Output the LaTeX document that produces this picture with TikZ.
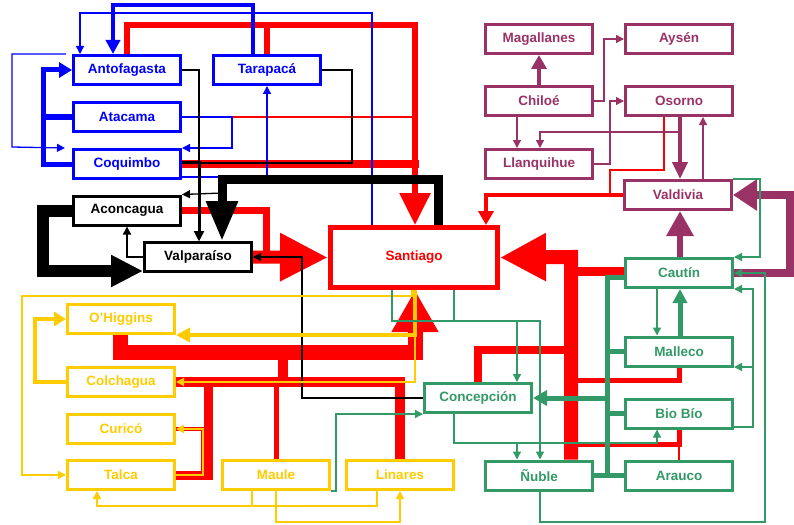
\documentclass[tikz,border=0pt]{standalone}
\usepackage{fontspec}
\setmainfont{Liberation Sans}
\usetikzlibrary{arrows.meta,backgrounds}
\definecolor{cB}{RGB}{0,0,255}
\definecolor{cR}{RGB}{255,0,0}
\definecolor{cY}{RGB}{255,204,0}
\definecolor{cG}{RGB}{51,153,102}
\definecolor{cP}{RGB}{153,51,102}
\begin{document}
\begin{tikzpicture}[x=1pt,y=-1pt,
  box/.style={draw=#1,text=#1,fill=white,line width=3pt,minimum width=107pt,minimum height=29pt,inner sep=0pt,font=\fontsize{13.5}{15}\selectfont\bfseries},
  th/.style={line width=1.3pt},
  arw/.style={-{Triangle[length=8pt,width=8pt]}}]
\useasboundingbox (0,0) rectangle (794,524);
% nodes
\node[box=cB] (anto) at (127,70) {Antofagasta};
\node[box=cB] (tara) at (267,70) {Tarapacá};
\node[box=cB] (atac) at (127,117) {Atacama};
\node[box=cB] (coq) at (127,164) {Coquimbo};
\node[box=black] (acon) at (127,210.5) {Aconcagua};
\node[box=black] (valp) at (198,257) {Valparaíso};
\node[box=cR,line width=5pt,minimum width=167pt,minimum height=60pt] (sant) at (414,257.5) {Santiago};
\node[box=cY] (ohig) at (121,319) {O’Higgins};
\node[box=cY] (colc) at (121,382) {Colchagua};
\node[box=cY] (curi) at (121,429) {Curicó};
\node[box=cY] (talc) at (121,475) {Talca};
\node[box=cY] (maul) at (276,475) {Maule};
\node[box=cY] (lina) at (400,475) {Linares};
\node[box=cG] (conc) at (478,398) {Concepción};
\node[box=cG] (nubl) at (539,475.5) {Ñuble};
\node[box=cG] (arau) at (679,475.5) {Arauco};
\node[box=cG] (biob) at (679,413.5) {Bio Bío};
\node[box=cG] (mall) at (679,351.5) {Malleco};
\node[box=cG] (caut) at (679,273) {Cautín};
\node[box=cP] (vald) at (678,195) {Valdivia};
\node[box=cP] (maga) at (539,39) {Magallanes};
\node[box=cP] (ayse) at (679,39) {Aysén};
\node[box=cP] (chil) at (539,101) {Chiloé};
\node[box=cP] (osor) at (679,101) {Osorno};
\node[box=cP] (llan) at (539,164) {Llanquihue};
\begin{pgfonlayer}{background}
% red
\draw[cR,line width=6pt,-{Triangle[length=32pt,width=30pt]}] (127,0 |- anto.north) -- (127,25) -- (415,25) -- (415,0 |- sant.north);
\draw[cR,line width=6pt] (267,0 |- tara.north) -- (267,25);
\draw[cR,th] (atac.east) -- (415,117);
\draw[cR,line width=8pt] (coq.east) -- (419,164);
\draw[cR,line width=7pt] (acon.east) -- (266,210.5) -- (266,257);
\draw[cR,line width=13pt,-{Triangle[length=48pt,width=45pt]}] (valp.east) -- (sant.west);
\draw[cR,line width=4pt,-{Triangle[length=14pt,width=15pt]}] (vald.west) -- (486,195) -- (486,0 |- sant.north);
\draw[cR,line width=1.5pt] (664,0 |- osor.south) -- (664,170) -- (610,170) -- (610,195);
\draw[cR,line width=14pt,-{Triangle[length=46pt,width=45pt]}] (571,0 |- nubl.north) -- (571,257) -- (sant.east);
\draw[cR,line width=9pt] (caut.west |- 0,271) -- (571,271);
\draw[cR,line width=5pt] (679,0 |- mall.south) -- (679,380) -- (571,380);
\draw[cR,line width=5pt] (679,0 |- biob.south) -- (679,444) -- (571,444);
\draw[cR,line width=1.5pt] (679,0 |- arau.north) -- (679,444);
\draw[cR,line width=8pt] (478,0 |- conc.north) -- (478,350) -- (571,350);
\draw[cR,line width=15pt,-{Triangle[length=42pt,width=44pt]}] (120,0 |- ohig.south) -- (120,352) -- (415,352) -- (415,0 |- sant.south);
\draw[cR,line width=10pt] (283,352) -- (283,382);
\draw[cR,line width=10pt] (colc.east) -- (400,382) -- (400,0 |- lina.north);
\draw[cR,line width=5pt] (276,382) -- (276,0 |- maul.north);
\draw[cR,line width=9pt] (talc.east) -- (208,475) -- (208,382);
\draw[cR,line width=4.5pt] (talc.east) -- (203,475) -- (203,429) -- (curi.east);
% blue
\draw[cB,line width=4.5pt,-{Triangle[length=14pt,width=14pt]}] (253,0 |- tara.north) -- (253,5) -- (113,5) -- (113,0 |- anto.north);
\draw[cB,th,arw] (372,0 |- sant.north) -- (372,13) -- (80,13) -- (80,0 |- anto.north);
\draw[cB,th,arw] ([xshift=-6pt]anto.north west) -- (12,54) -- (12,147) -- ([xshift=-7pt]coq.north west);
\draw[cB,line width=5pt,-{Triangle[length=13pt,width=15pt]}] (coq.west) -- (43,164) -- (43,70) -- (anto.west);
\draw[cB,line width=5pt] (atac.west) -- (43,117);
\draw[cB,th,arw] (atac.east) -- (232,117) -- (232,148) -- (coq.north east);
\draw[cB,th,arw] ([yshift=3pt]coq.south east) -- (267,177) -- (267,0 |- tara.south);
% black
\draw[th,arw] (anto.east) -- (199,70) -- (199,0 |- valp.north);
\draw[line width=3pt,-{Triangle[length=10pt,width=10pt]}] (coq.east |- 0,162) -- (199,162) -- (199,0 |- valp.north);
\draw[th] (tara.east) -- (352,70) -- (352,163) -- (199,163);
\draw[line width=9pt,-{Triangle[length=40pt,width=30pt]}] (438,0 |- sant.north) -- (438,179) -- (222,179) -- (222,0 |- valp.north);
\coordinate (kb) at (222,193);
\draw[th,arw] (kb) -- (acon.north east);
\draw[th,arw] (conc.west) -- (302,398) -- (302,257) -- (valp.east);
\draw[th,arw] (valp.west) -- (127,257) -- (127,0 |- acon.south);
\draw[line width=12pt,-{Triangle[length=32pt,width=30pt]}] (acon.west) -- (43,210.5) -- (43,271) -- (valp.west |- 0,271);
% yellow
\draw[cY,line width=4pt,-{Triangle[length=14pt,width=14pt]}] (415,0 |- sant.south) |- (ohig.south east);
\draw[cY,th,arw] (415,0 |- sant.south) |- (colc.east);
\draw[cY,th,arw] (412,0 |- sant.south) -- (412,296) -- (22,296) |- (talc.west);
\draw[cY,line width=4pt,-{Triangle[length=12pt,width=14pt]}] (colc.west) -- (35,382) |- (ohig.west);
\draw[cY,th,arw] (talc.east) -- (203,475) -- (203,429) -- (curi.east);
\draw[cY,th,arw] (252,0 |- maul.south) -- (252,506) -- (97,506) -- (97,0 |- talc.south);
\draw[cY,th] (377,0 |- lina.south) -- (377,506) -- (252,506);
\draw[cY,th,arw] (276,0 |- maul.south) -- (276,522) -- (400,522) -- (400,0 |- lina.south);
% green
\draw[cG,th,arw] (392,0 |- sant.south) -- (392,321) -- (517,321) -- (517,0 |- conc.north);
\draw[cG,th,arw] (454,0 |- sant.south) -- (454,321) -- (540,321) -- (540,0 |- nubl.north);
\draw[cG,th,arw] (454,0 |- conc.south) -- (454,443) -- (657,443) -- (657,0 |- biob.south);
\draw[cG,th,arw] (517,443) -- (517,0 |- nubl.north);
\draw[cG,th,arw] (maul.south east) -- (336,491) -- (336,414) -- (conc.west |- 0,414);
\draw[cG,line width=5pt] (caut.west |- 0,277) -- (607,277) -- (607,475.5) -- (arau.west);
\draw[cG,line width=5pt] (mall.west) -- (607,351.5);
\draw[cG,line width=5pt] (biob.west) -- (607,413.5);
\draw[cG,line width=5pt] (nubl.east) -- (607,475.5);
\draw[cG,line width=5pt,-{Triangle[length=14pt,width=15pt]}] (607,398) -- (conc.east);
\draw[cG,th,arw] (657,0 |- caut.south) -- (657,0 |- mall.north);
\draw[cG,line width=5pt,-{Triangle[length=14pt,width=14pt]}] (680,0 |- mall.north) -- (680,0 |- caut.south);
\draw[cG,th,arw] (biob.east |- 0,427) -- (753,427) -- (753,289) -- (caut.east |- 0,289);
\draw[cG,th,arw] (753,367) -- (mall.east |- 0,367);
% purple
\draw[cP,line width=8pt,-{Triangle[length=24pt,width=30pt]}] (caut.east) -- (790,273) -- (790,195) -- (vald.east);
\draw[cP,line width=6pt,-{Triangle[length=25pt,width=26pt]}] (680,0 |- caut.north) -- (680,0 |- vald.south);
\draw[cP,line width=4pt,-{Triangle[length=17pt,width=15pt]}] (680,0 |- osor.south) -- (680,0 |- vald.north);
\draw[cP,th,arw] (703,0 |- vald.north) -- (703,0 |- osor.south);
\draw[cP,th,arw] (680,0 |- osor.south) -- (680,132) -- (540,132) -- (540,0 |- llan.north);
\draw[cP,th,arw] (517,0 |- chil.south) -- (517,0 |- llan.north);
\draw[cP,line width=4pt,-{Triangle[length=14pt,width=15pt]}] (chil.north) -- (maga.south);
\draw[cP,th,arw] (chil.east) -- (604,101) -- (604,39) -- (ayse.west);
\draw[cP,th,arw] (llan.east) -- (610,164) -- (610,101) -- (osor.west);
% green over purple
\draw[cG,th,arw] (540,0 |- nubl.south) -- (540,522) -- (765,522) -- (765,273) -- (caut.east);
\draw[cG,th,arw] (vald.north east) -- (760,179) -- (760,257) -- (caut.east |- 0,257);
\end{pgfonlayer}
\end{tikzpicture}
\end{document}
